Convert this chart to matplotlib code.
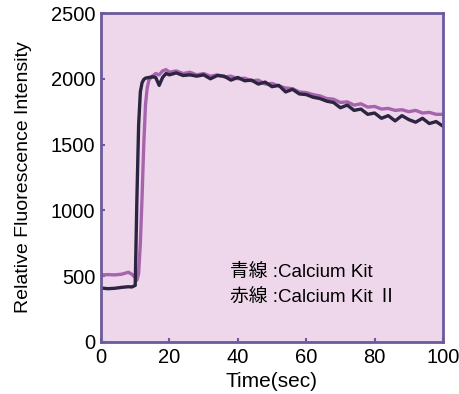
import matplotlib
matplotlib.use("Agg")
import matplotlib.pyplot as plt

# calcium response traces
t_kit = [0, 2, 4, 6, 8, 9, 10, 10.5, 11, 11.5, 12, 12.5, 13, 14, 15, 16, 17, 18, 19, 20,
         22, 24, 26, 28, 30, 32, 34, 36, 38, 40, 42, 44, 46, 48, 50, 52, 54, 56, 58, 60,
         62, 64, 66, 68, 70, 72, 74, 76, 78, 80, 82, 84, 86, 88, 90, 92, 94, 96, 98, 100]
kit = [410, 405, 408, 415, 420, 418, 430, 1100, 1650, 1900, 1970, 1995, 2005, 2010, 2015, 2010, 1950, 2010, 2040, 2030,
       2045, 2025, 2030, 2020, 2030, 2000, 2025, 2020, 1990, 2010, 1985, 1990, 1960, 1975, 1940, 1950, 1900, 1920, 1885, 1880,
       1860, 1850, 1830, 1820, 1780, 1800, 1760, 1770, 1730, 1740, 1700, 1720, 1680, 1720, 1690, 1670, 1700, 1660, 1675, 1640]

t_kit2 = [0, 2, 4, 6, 8, 9, 10, 10.5, 11, 11.5, 12, 12.5, 13, 13.5, 14, 15, 16, 17, 18, 19, 20,
          22, 24, 26, 28, 30, 32, 34, 36, 38, 40, 42, 44, 46, 48, 50, 52, 54, 56, 58, 60,
          62, 64, 66, 68, 70, 72, 74, 76, 78, 80, 82, 84, 86, 88, 90, 92, 94, 96, 98, 100]
kit2 = [510, 512, 510, 515, 530, 515, 490, 470, 520, 750, 1100, 1500, 1800, 1930, 1990, 2020, 2040, 2030, 2060, 2070, 2050,
        2060, 2040, 2050, 2030, 2040, 2020, 2030, 2015, 2020, 2000, 2005, 1985, 1990, 1960, 1965, 1945, 1930, 1925, 1900, 1895,
        1880, 1870, 1850, 1845, 1820, 1825, 1800, 1810, 1785, 1790, 1770, 1775, 1760, 1765, 1750, 1760, 1740, 1745, 1730, 1730]

xticks = [0, 20, 40, 60, 80, 100]
yticks = [0, 500, 1000, 1500, 2000, 2500]
notes = ["青線 :Calcium Kit", "赤線 :Calcium Kit Ⅱ"]

plt.rcParams['font.family'] = ['Liberation Sans', 'Noto Sans CJK JP', 'DejaVu Sans']

fig = plt.figure(figsize=(4.6, 3.94), dpi=100)
ax = fig.add_axes([0.2196, 0.132, 0.7434, 0.835])
ax.set_facecolor('#eed7eb')

ax.plot(t_kit2, kit2, color='#a764ae', lw=2.4)
ax.plot(t_kit, kit, color='#2c2440', lw=2.4)

ax.set_xlim(0, 100)
ax.set_ylim(0, 2500)
ax.set_xticks(xticks)
ax.set_yticks(yticks)
ax.tick_params(direction='in', length=3, width=1.5, color='#6b5b9e', labelsize=14.5, pad=4)
for s in ax.spines.values():
    s.set_color('#6b5a9c')
    s.set_linewidth(2)

ax.set_xlabel('Time(sec)', fontsize=15, labelpad=4)
ax.set_ylabel('Relative Fluorescence Intensity', fontsize=14, labelpad=14)

ax.text(37.7, 532, notes[0], fontsize=13.5, va='center')
ax.text(37.7, 334, notes[1], fontsize=13.5, va='center')

fig.savefig('out.png', dpi=100)
